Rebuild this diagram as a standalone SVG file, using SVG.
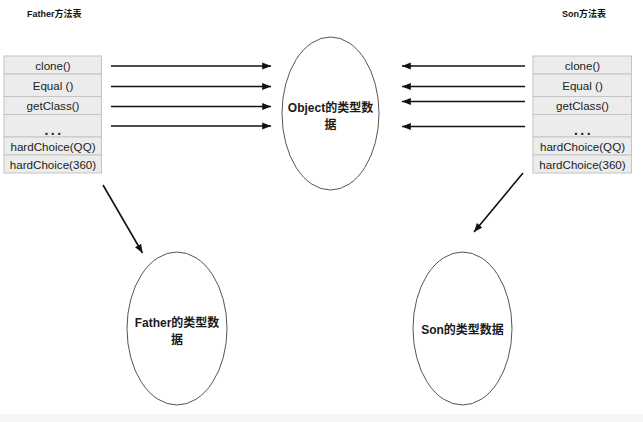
<svg xmlns="http://www.w3.org/2000/svg" width="643" height="422" viewBox="0 0 643 422">
<style>
.title{font-family:"Liberation Sans",Arial,"Noto Sans CJK SC",sans-serif;font-size:9px;font-weight:bold;fill:#111}
.cell{fill:#ececec;stroke:#c4c4c4;stroke-width:1}
.ct{font-family:"Liberation Sans",Arial,"Noto Sans CJK SC",sans-serif;font-size:11.6px;fill:#222;text-anchor:middle}
.dots{font-family:"Liberation Sans",Arial,sans-serif;font-size:14px;font-weight:bold;fill:#222;text-anchor:middle;letter-spacing:2.5px}
.ell{fill:#fff;stroke:#555;stroke-width:1}
.et{font-family:"Liberation Sans",Arial,"Noto Sans CJK SC",sans-serif;font-size:12px;font-weight:bold;fill:#1a1a1a;text-anchor:middle}
.conn{stroke:#111;stroke-width:1.6;fill:none;marker-end:url(#ah)}
</style>
<defs>
<marker id="ah" viewBox="0 0 10 8" refX="10" refY="4" markerWidth="5.5" markerHeight="4.5" orient="auto" markerUnits="strokeWidth">
<path d="M0,0 L10,4 L0,8 Z" fill="#111"/>
</marker>
</defs>
<rect x="0" y="0" width="643" height="422" fill="#fff"/>
<rect x="0" y="414" width="643" height="8" fill="#f6f6f6"/>
<text class="title" x="27" y="17">Father方法表</text>
<text class="title" x="562" y="17">Son方法表</text>
<g id="father-table">
<rect class="cell" x="4" y="56" width="97.5" height="18"/>
<rect class="cell" x="4" y="74" width="97.5" height="22.5"/>
<rect class="cell" x="4" y="96.5" width="97.5" height="18"/>
<rect class="cell" x="4" y="114.5" width="97.5" height="22.5"/>
<rect class="cell" x="4" y="137" width="97.5" height="18"/>
<rect class="cell" x="4" y="155" width="97.5" height="18"/>
<text class="ct" x="53" y="70">clone()</text>
<text class="ct" x="53" y="89.5">Equal ()</text>
<text class="ct" x="53" y="110">getClass()</text>
<text class="dots" x="54" y="135">...</text>
<text class="ct" x="53" y="151">hardChoice(QQ)</text>
<text class="ct" x="53" y="169">hardChoice(360)</text>
</g>
<g id="son-table">
<rect class="cell" x="533" y="56" width="98.5" height="18"/>
<rect class="cell" x="533" y="74" width="98.5" height="22.5"/>
<rect class="cell" x="533" y="96.5" width="98.5" height="18"/>
<rect class="cell" x="533" y="114.5" width="98.5" height="22.5"/>
<rect class="cell" x="533" y="137" width="98.5" height="18"/>
<rect class="cell" x="533" y="155" width="98.5" height="18"/>
<text class="ct" x="582.5" y="70">clone()</text>
<text class="ct" x="582.5" y="89.5">Equal ()</text>
<text class="ct" x="582.5" y="110">getClass()</text>
<text class="dots" x="583.5" y="135">...</text>
<text class="ct" x="582.5" y="151">hardChoice(QQ)</text>
<text class="ct" x="582.5" y="169">hardChoice(360)</text>
</g>
<g id="object-node">
<ellipse class="ell" cx="330.5" cy="113.5" rx="48.5" ry="76.5"/>
<text class="et" x="330.5" y="112">Object的类型数</text>
<text class="et" x="330.5" y="129">据</text>
</g>
<g id="father-node">
<ellipse class="ell" cx="177" cy="328.5" rx="50" ry="76.5"/>
<text class="et" x="177" y="327">Father的类型数</text>
<text class="et" x="177" y="344">据</text>
</g>
<g id="son-node">
<ellipse class="ell" cx="462.5" cy="328.5" rx="49.5" ry="76.5"/>
<text class="et" x="462.5" y="334">Son的类型数据</text>
</g>
<g id="connectors">
<line class="conn" x1="111" y1="66" x2="271" y2="66"/>
<line class="conn" x1="111" y1="86.5" x2="271" y2="86.5"/>
<line class="conn" x1="111" y1="106.5" x2="271" y2="106.5"/>
<line class="conn" x1="111" y1="126" x2="271" y2="126"/>
<line class="conn" x1="525" y1="66" x2="402" y2="66"/>
<line class="conn" x1="525" y1="86.5" x2="402" y2="86.5"/>
<line class="conn" x1="525" y1="101.5" x2="402" y2="101.5"/>
<line class="conn" x1="525" y1="126.5" x2="402" y2="126.5"/>
<line class="conn" x1="103" y1="185" x2="142.5" y2="253"/>
<line class="conn" x1="523" y1="173" x2="474" y2="232"/>
</g>
</svg>
